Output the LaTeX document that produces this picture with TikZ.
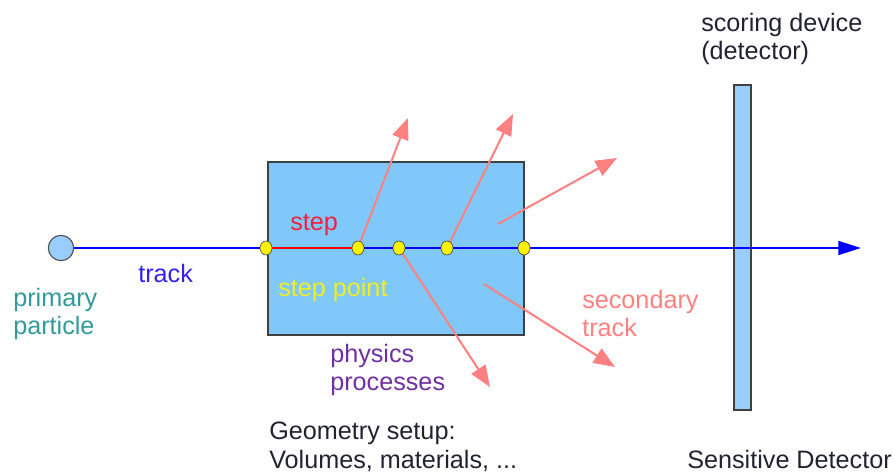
\documentclass[tikz,border=0pt]{standalone}
\usepackage{fontspec}
\setmainfont{Liberation Sans}
\usetikzlibrary{arrows.meta,shapes.geometric}
\definecolor{volblue}{HTML}{80C8FA}
\definecolor{detblue}{HTML}{99CCFF}
\definecolor{secred}{HTML}{FF8080}
\definecolor{steptxt}{HTML}{F02040}
\definecolor{trktxt}{HTML}{3322EE}
\definecolor{primtxt}{HTML}{339999}
\definecolor{phystxt}{HTML}{7030A0}
\definecolor{pttxt}{HTML}{EEEE22}
\definecolor{darktxt}{HTML}{222233}
\begin{document}
\begin{tikzpicture}[
  x=0.75pt, y=-0.75pt,
  font=\fontsize{18.9}{21}\selectfont,
  lbl/.style={anchor=base west, inner sep=0pt, align=left},
  stepdot/.style={ellipse, draw=black!70, line width=0.5pt, fill=yellow, minimum width=9pt, minimum height=10.5pt, inner sep=0pt},
  sec/.style={draw=secred, line width=1.5pt, -{Triangle[length=16pt,width=12.5pt]}}
]
  \useasboundingbox (0,0) rectangle (895,473);
  % volume and detector
  \node[draw=black!75, line width=1.1pt, fill=volblue, minimum width=192pt, minimum height=129.75pt, inner sep=0pt] (vol) at (396,248.5) {};
  \node[draw=black!75, line width=1.1pt, fill=detblue, minimum width=12.75pt, minimum height=243.75pt, inner sep=0pt] (det) at (742.5,247.5) {};
  \node[circle, draw=black!70, line width=0.8pt, fill=detblue, minimum size=19pt, inner sep=0pt] (prim) at (61,248) {};
  % step points
  \foreach \i/\x in {0/266,1/358,2/399,3/447,4/524}
    \coordinate (c\i) at (\x,248);
  \coordinate (tip) at (861,248);
  \draw[blue, line width=1.1pt, -{Triangle[length=17pt,width=10.5pt]}] (prim) -- (tip);
  \draw[red, line width=1.1pt] (c0) -- (c1);
  % secondaries
  \coordinate (s1) at (408,118);
  \coordinate (s2) at (513,114);
  \coordinate (a3) at (498,224);
  \coordinate (s3) at (617,158);
  \coordinate (s4) at (490,387);
  \coordinate (a5) at (484,284);
  \coordinate (s5) at (615,367);
  \draw[sec] (c1) -- (s1);
  \draw[sec] (c3) -- (s2);
  \draw[sec] (a3) -- (s3);
  \draw[sec] (c2) -- (s4);
  \draw[sec] (a5) -- (s5);
  \foreach \i in {0,...,4}
    \node[stepdot] (p\i) at (c\i) {};
  % labels
  \node[lbl, text=darktxt] (scor) at (701,60) {scoring device\\(detector)};
  \node[lbl, text=trktxt] (trk) at (138,283) {track};
  \node[lbl, text=primtxt] (primlbl) at (13,335) {primary\\particle};
  \node[lbl, text=steptxt] (steplbl) at (290,231) {step};
  \node[lbl, text=pttxt] (ptlbl) at (278,297) {step point};
  \node[lbl, text=secred] (seclbl) at (582,337) {secondary\\track};
  \node[lbl, text=phystxt] (phys) at (330,391) {physics\\processes};
  \node[lbl, text=darktxt] (geom) at (269,468) {Geometry setup:\\Volumes, materials, ...};
  \node[lbl, text=darktxt] (sens) at (687,468) {Sensitive Detector};
\end{tikzpicture}
\end{document}
